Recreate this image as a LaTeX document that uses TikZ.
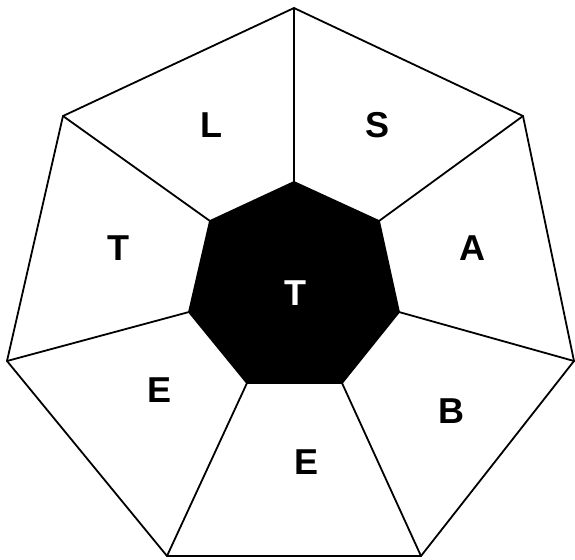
\documentclass[tikz,border=0pt]{standalone}
\usepackage{fontspec}
\setmainfont{Liberation Sans}
\begin{document}
\begin{tikzpicture}[x=0.5pt,y=-0.5pt,
  edge/.style={draw=black,line width=0.9pt,line join=miter},
  lbl/.style={font=\bfseries\fontsize{18}{20}\selectfont,inner sep=0pt,anchor=center},
  wlbl/.style={lbl,text=white}]
\useasboundingbox (0,0) rectangle (575,559);
% outer vertices
\coordinate (O1) at (294,8);
\coordinate (O2) at (523,116);
\coordinate (O3) at (574,361);
\coordinate (O4) at (421,556);
\coordinate (O5) at (167,556);
\coordinate (O6) at (7,361);
\coordinate (O7) at (63,116);
% inner vertices
\coordinate (I1) at (294,182);
\coordinate (I2) at (379,221);
\coordinate (I3) at (399,312);
\coordinate (I4) at (342,383);
\coordinate (I5) at (247,383);
\coordinate (I6) at (189,312);
\coordinate (I7) at (210,221);
\draw[edge] (O1) -- (O2) -- (O3) -- (O4) -- (O5) -- (O6) -- (O7) -- cycle;
\foreach \i in {1,...,7} {\draw[edge] (I\i) -- (O\i);}
\fill[black] (I1) -- (I2) -- (I3) -- (I4) -- (I5) -- (I6) -- (I7) -- cycle;
\draw[edge] (I1) -- (I2) -- (I3) -- (I4) -- (I5) -- (I6) -- (I7) -- cycle;
\node[lbl] (l) at (211.5,125) {L};
\node[lbl] (s) at (378,125) {S};
\node[lbl] (tl) at (118,248) {T};
\node[lbl] (a) at (472,248) {A};
\node[wlbl] (tc) at (295,293) {T};
\node[lbl] (el) at (160,390) {E};
\node[lbl] (b) at (451,411) {B};
\node[lbl] (eb) at (307,462) {E};
\end{tikzpicture}
\end{document}
